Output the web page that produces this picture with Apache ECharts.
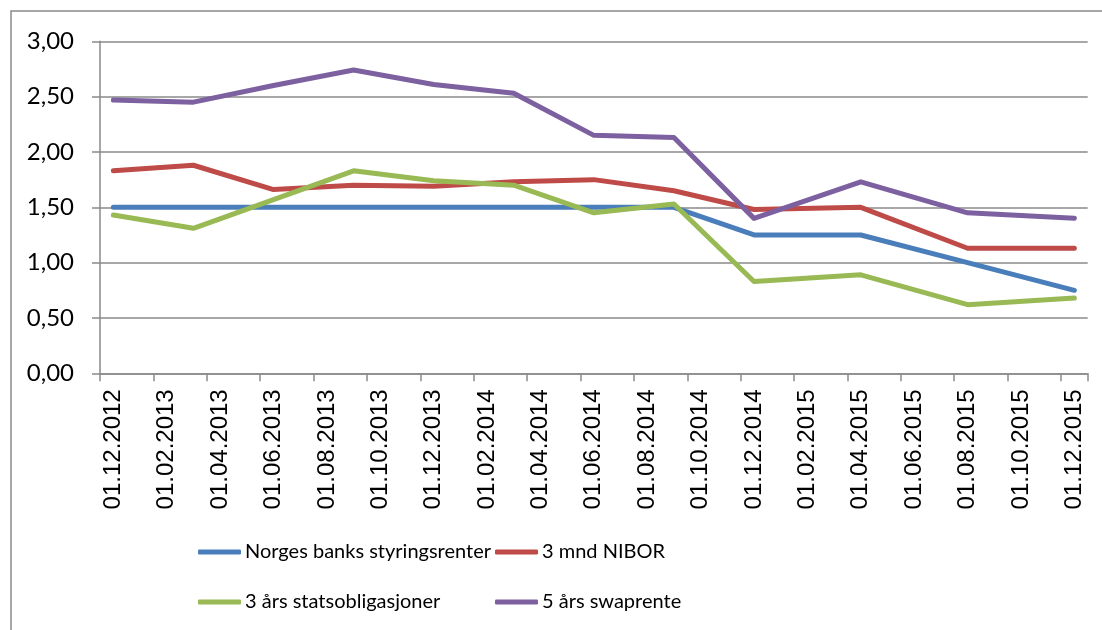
<!DOCTYPE html>
<html>
<head>
<meta charset="utf-8">
<script src="https://cdn.jsdelivr.net/npm/echarts@6/dist/echarts.min.js"></script>
<style>html,body{margin:0;padding:0;background:#fff}#c{width:1102px;height:630px}</style>
</head>
<body>
<div id="c"></div>
<script>
// Monthly category slots (Excel date axis, base unit = month)
const months = [
  '01.12.2012',
  '01.01.2013','01.02.2013','01.03.2013','01.04.2013','01.05.2013','01.06.2013',
  '01.07.2013','01.08.2013','01.09.2013','01.10.2013','01.11.2013','01.12.2013',
  '01.01.2014','01.02.2014','01.03.2014','01.04.2014','01.05.2014','01.06.2014',
  '01.07.2014','01.08.2014','01.09.2014','01.10.2014','01.11.2014','01.12.2014',
  '01.01.2015','01.02.2015','01.03.2015','01.04.2015','01.05.2015','01.06.2015',
  '01.07.2015','01.08.2015','01.09.2015','01.10.2015','01.11.2015','01.12.2015'
];
// Observation dates
const dates = ['01.12.2012','01.03.2013','01.06.2013','01.09.2013','01.12.2013','01.03.2014',
               '01.06.2014','01.09.2014','01.12.2014','01.04.2015','01.08.2015','01.12.2015'];
const seriesNames = ['Norges banks styringsrenter','3 mnd NIBOR','3 års statsobligasjoner','5 års swaprente'];
const styringsrente = [1.50,1.50,1.50,1.50,1.50,1.50,1.50,1.50,1.25,1.25,1.00,0.75];
const nibor         = [1.83,1.88,1.66,1.70,1.69,1.73,1.75,1.65,1.48,1.50,1.13,1.13];
const statsobl      = [1.43,1.31,1.57,1.83,1.74,1.70,1.45,1.53,0.83,0.89,0.62,0.68];
const swaprente     = [2.47,2.45,2.60,2.74,2.61,2.53,2.15,2.13,1.40,1.73,1.45,1.40];
const colors = ['#4A7EBB','#BE4B48','#98B954','#7D60A0'];

const allValues = [styringsrente, nibor, statsobl, swaprente];
const series = allValues.map((vals, i) => ({
  name: seriesNames[i],
  type: 'line',
  symbol: 'none',
  data: dates.map((d, j) => [d, vals[j]]),
  lineStyle: { width: 5, color: colors[i], cap: 'round', join: 'round' },
  itemStyle: { color: colors[i] },
  emphasis: { disabled: true },
  animation: false
}));

const legendPos = [
  { left: 198, top: 542 },
  { left: 495, top: 542 },
  { left: 198, top: 592 },
  { left: 495, top: 592 }
];
const legends = seriesNames.map((n, i) => ({
  data: [n],
  left: legendPos[i].left,
  top: legendPos[i].top,
  padding: 0,
  icon: 'roundRect',
  itemWidth: 43,
  itemHeight: 5,
  selectedMode: false,
  textStyle: { fontFamily: 'Lato', fontSize: 20, color: '#000', padding: [0, 0, 0, -1] }
}));

const chart = echarts.init(document.getElementById('c'), null, { renderer: 'canvas' });
chart.setOption({
  animation: false,
  color: colors,
  grid: { left: 100, top: 41.3, right: 14.3, bottom: 256.7, containLabel: false },
  graphic: [{
    type: 'rect',
    shape: { x: 11, y: 11, width: 1100, height: 650 },
    style: { fill: 'none', stroke: '#8a8a8a', lineWidth: 1.5 },
    silent: true
  }],
  legend: legends,
  xAxis: {
    type: 'category',
    data: months,
    boundaryGap: true,
    axisLine: { show: true, lineStyle: { color: '#8a8a8a', width: 1.5 } },
    axisTick: { show: true, interval: 1, alignWithLabel: false, length: 8, lineStyle: { color: '#8a8a8a', width: 1.5 } },
    axisLabel: {
      interval: 1, rotate: 90, margin: 16,
      fontFamily: 'Liberation Sans', fontSize: 24, color: '#000'
    },
    splitLine: { show: false }
  },
  yAxis: {
    type: 'value',
    min: 0, max: 3, interval: 0.5,
    axisLine: { show: true, lineStyle: { color: '#8a8a8a', width: 1.5 } },
    axisTick: { show: true, length: 8, lineStyle: { color: '#8a8a8a', width: 1.5 } },
    axisLabel: {
      margin: 26, fontFamily: 'Lato', fontSize: 24, color: '#000',
      formatter: v => v.toFixed(2).replace('.', ',')
    },
    splitLine: { show: true, lineStyle: { color: '#8a8a8a', width: 1.5 } }
  },
  series: series
});
</script>
</body>
</html>
